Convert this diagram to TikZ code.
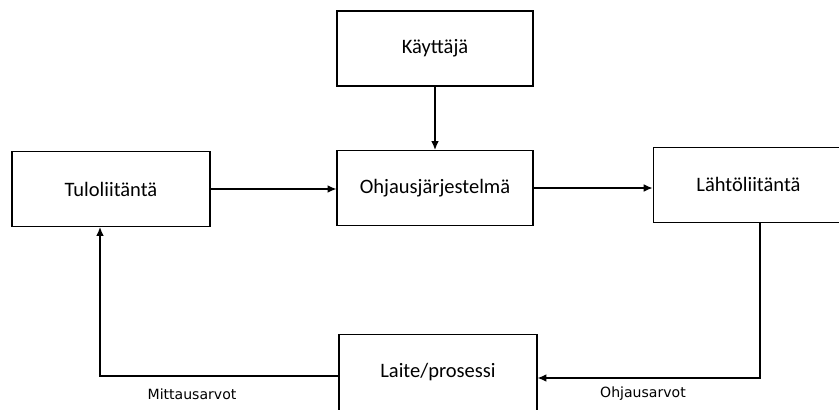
\documentclass[tikz,border=0pt]{standalone}
\usepackage{fontspec}
\setmainfont{Carlito}
\newfontfamily\tagfont{DejaVu Sans}
\usetikzlibrary{positioning}
\usetikzlibrary{arrows.meta}

\begin{document}
\begin{tikzpicture}[x=0.03cm, y=-0.03cm,
	block/.style={draw, line width=1pt, inner sep=0pt, minimum height=2.25cm,
		font=\fontsize{17.5}{20}\selectfont},
	flow/.style={line width=1pt, -{Latex[length=7.5pt,width=6.5pt]}},
	tag/.style={font=\tagfont\fontsize{12}{14}\selectfont}]

	% page frame: the right and bottom boxes run off the edge
	\useasboundingbox (0,0) rectangle (839,409);
	\clip (0,0) rectangle (839,409);

	% the blocks, placed at pixel coordinates of the sketch
	\node[block, minimum width=5.88cm] (kayttaja) at (435,48.5) {Käyttäjä};
	\node[block, minimum width=5.94cm] (tulo)     at (111,189)  {Tuloliitäntä};
	\node[block, minimum width=5.88cm] (ohjaus)   at (435,188)  {Ohjausjärjestelmä};
	% cut off by the page edge, so the text sits left of centre
	\node[block, inner xsep=1.3cm, text width=5cm, align=left, anchor=west]
		(lahto) at (652.5,184.8) {Lähtöliitäntä};
	\node[block, minimum width=5.94cm, minimum height=2.28cm] (laite) at (438,372.5) {Laite/prosessi};

	% corners of the feedback loop
	\coordinate (C1) at (760,378);
	\coordinate (C2) at (100,376);

	%%%%%%%%%%%%%%%%%%%%%%%%%%%%%%%%%%%%%%%%%%%%%%%%%%%%%%%%%%%%%%
	% main signal path
	\draw[flow] (kayttaja) -- (ohjaus);
	\draw[flow] (tulo.east) -- (tulo.east -| ohjaus.west);
	\draw[flow] (ohjaus.east) -- (ohjaus.east -| lahto.west);

	% loop through the process
	\draw[flow] (lahto.south -| C1) -- (C1) -- (C1 -| laite.east);
	\draw[flow] (C2 -| laite.west) -- (C2) -- (C2 |- tulo.south);

	\node[tag] (mitt) at (192,394) {Mittausarvot};
	\node[tag] (ohja) at (643,394) {Ohjausarvot};

\end{tikzpicture}
\end{document}
